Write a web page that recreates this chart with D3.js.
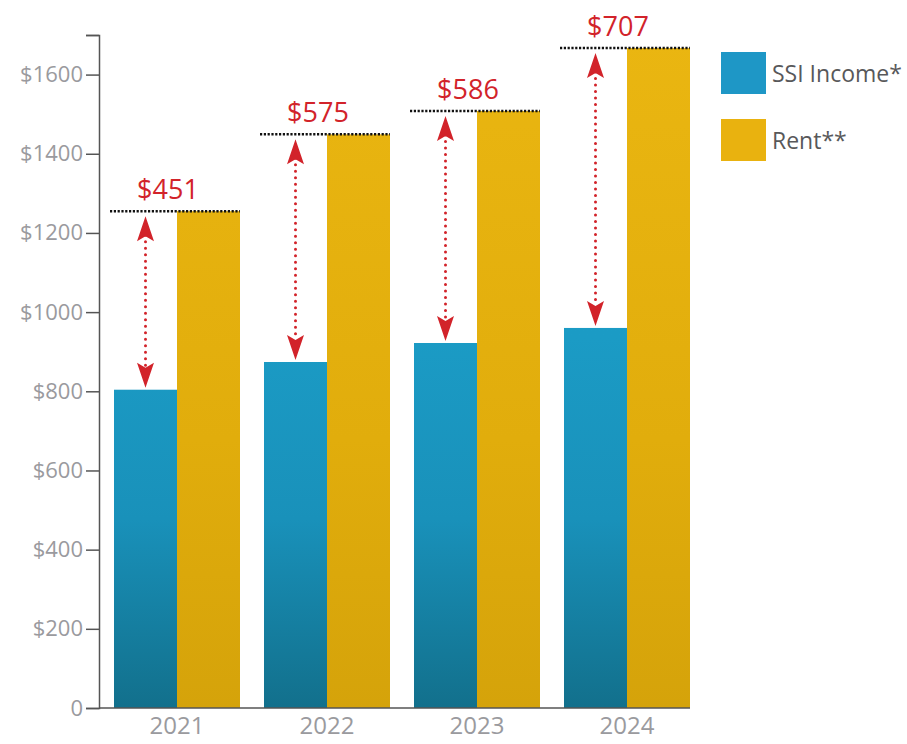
<!DOCTYPE html>
<html>
<head>
	<script src="https://d3js.org/d3.v7.min.js"></script>
	<style>
		body { margin: 0; background: #fff; }
		svg { display: block; font-family: "Open Sans", "Noto Sans", sans-serif; }
	</style>
</head>
<body>
	<div class="chart-container"></div>
	<script>
		// data
		var years = ["2021", "2022", "2023", "2024"];
		var ssiIncome = [804, 874, 922, 960];
		var rent = [1255, 1449, 1508, 1667];
		var gapLabels = ["$451", "$575", "$586", "$707"];
		var yTicks = [0, 200, 400, 600, 800, 1000, 1200, 1400, 1600, 1700];
		var legendItems = ["SSI Income*", "Rent**"];

		var w = 907, h = 744;
		var svg = d3.select(".chart-container")
			.append("svg")
			.attr("width", w)
			.attr("height", h);

		var x = d3.scaleBand()
			.domain(years)
			.range([102, 702])
			.paddingInner(0.16)
			.paddingOuter(0.08);
		var sub = d3.scaleBand()
			.domain(["ssi", "rent"])
			.range([0, x.bandwidth()]);
		var y = d3.scaleLinear()
			.domain([0, 1700])
			.range([708, 35]);

		// gradients, darker toward the baseline
		var defs = svg.append("defs");
		function addGradient(id, stops) {
			var g = defs.append("linearGradient")
				.attr("id", id)
				.attr("gradientUnits", "userSpaceOnUse")
				.attr("x1", 0).attr("x2", 0)
				.attr("y1", y(0)).attr("y2", y(1700));
			stops.forEach(function(s) {
				g.append("stop").attr("offset", s[0]).attr("stop-color", s[1]);
			});
		}
		addGradient("blue-grad", [[0, "#12708c"], [0.28, "#1991ba"], [0.55, "#1b9bc5"], [1, "#1c9dc8"]]);
		addGradient("gold-grad", [[0, "#d5a30a"], [0.4, "#e1ad0c"], [1, "#eab611"]]);

		var rows = years.map(function(yr, i) {
			return {year: yr, ssi: ssiIncome[i], rent: rent[i], gap: gapLabels[i]};
		});

		// bars
		var groups = svg.append("g").selectAll("g")
			.data(rows)
			.enter()
			.append("g")
			.attr("transform", function(d) { return "translate(" + x(d.year) + ",0)"; });
		groups.append("rect")
			.attr("x", sub("ssi"))
			.attr("width", sub.bandwidth())
			.attr("y", function(d) { return y(d.ssi); })
			.attr("height", function(d) { return y(0) - y(d.ssi); })
			.attr("fill", "url(#blue-grad)");
		groups.append("rect")
			.attr("x", sub("rent"))
			.attr("width", sub.bandwidth())
			.attr("y", function(d) { return y(d.rent); })
			.attr("height", function(d) { return y(0) - y(d.rent); })
			.attr("fill", "url(#gold-grad)");

		// y axis
		var yAxis = d3.axisLeft(y)
			.tickValues(yTicks)
			.tickSize(13)
			.tickPadding(3)
			.tickFormat(function(d) { return d == 0 ? "0" : d == 1700 ? "" : "$" + d; });
		var ya = svg.append("g")
			.attr("transform", "translate(99,0)")
			.call(yAxis);
		ya.select(".domain").attr("stroke", "#555").attr("stroke-width", 1.5);
		ya.selectAll(".tick line").attr("stroke", "#555").attr("stroke-width", 1.5);
		ya.selectAll(".tick text")
			.attr("fill", "#9a9a9e")
			.attr("font-size", 22)
			.style("font-family", "'Open Sans', sans-serif");

		// x axis baseline + labels
		var xa = svg.append("g")
			.attr("transform", "translate(0," + y(0) + ")")
			.call(d3.axisBottom(x).tickSize(0).tickPadding(9));
		xa.select(".domain")
			.attr("d", "M99,0H" + (x(years[3]) + x.bandwidth()))
			.attr("stroke", "#555").attr("stroke-width", 1.5);
		xa.selectAll(".tick text")
			.attr("fill", "#9a9a9e")
			.attr("font-size", 24)
			.style("font-family", "'Open Sans', sans-serif");

		// gap annotations
		var red = "#d2232a";
		var ann = svg.append("g").selectAll("g")
			.data(rows)
			.enter()
			.append("g")
			.attr("transform", function(d) { return "translate(" + x(d.year) + ",0)"; });
		ann.append("line")
			.attr("x1", sub("ssi") - 4)
			.attr("x2", sub("rent") + sub.bandwidth())
			.attr("y1", function(d) { return y(d.rent); })
			.attr("y2", function(d) { return y(d.rent); })
			.attr("stroke", "#111")
			.attr("stroke-width", 2.5)
			.attr("stroke-dasharray", "2.2,1.6");
		var ax = sub("ssi") + sub.bandwidth() / 2;
		ann.append("line")
			.attr("x1", ax).attr("x2", ax)
			.attr("y1", function(d) { return y(d.rent) + 24; })
			.attr("y2", function(d) { return y(d.ssi) - 22; })
			.attr("stroke", red)
			.attr("stroke-width", 3)
			.attr("stroke-linecap", "round")
			.attr("stroke-dasharray", "0,6.5");
		ann.append("path")
			.attr("d", function(d) {
				var t = y(d.rent) + 5;
				return "M" + ax + "," + t + "L" + (ax + 8.5) + "," + (t + 25) + "L" + ax + "," + (t + 20) + "L" + (ax - 8.5) + "," + (t + 25) + "Z";
			})
			.attr("fill", red);
		ann.append("path")
			.attr("d", function(d) {
				var b = y(d.ssi) - 2;
				return "M" + ax + "," + b + "L" + (ax + 8.5) + "," + (b - 25) + "L" + ax + "," + (b - 20) + "L" + (ax - 8.5) + "," + (b - 25) + "Z";
			})
			.attr("fill", red);
		ann.append("text")
			.attr("x", x.bandwidth() / 2 - 9)
			.attr("y", function(d) { return y(d.rent) - 12; })
			.attr("text-anchor", "middle")
			.attr("fill", red)
			.attr("font-size", 27)
			.text(function(d) { return d.gap; });

		// legend
		var legendColors = ["#1e97c6", "#e9b20f"];
		var lg = svg.append("g").selectAll("g")
			.data(legendItems)
			.enter()
			.append("g")
			.attr("transform", function(d, i) { return "translate(721," + (52 + i * 67) + ")"; });
		lg.append("rect")
			.attr("width", 45)
			.attr("height", 42)
			.attr("fill", function(d, i) { return legendColors[i]; });
		lg.append("text")
			.attr("x", 51)
			.attr("y", 30)
			.attr("fill", "#58585a")
			.attr("font-size", 23)
			.text(function(d) { return d; });
	</script>
</body>
</html>
